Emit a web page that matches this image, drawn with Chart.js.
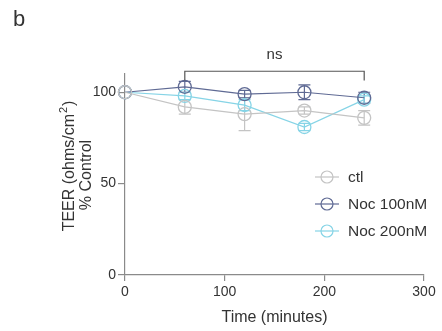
<!DOCTYPE html>
<html>
<head>
<meta charset="utf-8">
<script src="https://cdn.jsdelivr.net/npm/chart.js@4"></script>
<style>
  html, body { margin: 0; padding: 0; background: #fff; }
  #wrap { position: relative; width: 442px; height: 331px; }
</style>
</head>
<body>
<div id="wrap"><canvas id="teer" width="442" height="331"></canvas></div>
<script>
// ── DATA ──────────────────────────────────────────────────────
const TIMES      = [0, 60, 120, 180, 240];
const CTL        = [100, 92, 88, 90, 86];
const CTL_ERR    = [0, 4, 9, 2, 4];
const NOC100     = [100, 103, 99, 100, 97];
const NOC100_ERR = [0, 3, 2, 4, 3];
const NOC200     = [100, 98, 93, 81, 96];
const NOC200_ERR = [0, 2, 3, 2, 2];
const X_TICKS    = [0, 100, 200, 300];
const Y_TICKS    = [0, 50, 100];
const BRACKET    = { from: 60, to: 240, at: 111.5, drop: 106.5, label: 'ns' };

const FONT = '"Liberation Sans", Arial, sans-serif';
const AXIS = '#8a8a8a';
const TEXT = '#333';

const SERIES = [
  { label: 'ctl',       data: CTL,    err: CTL_ERR,    color: '#c4c4c4' },
  { label: 'Noc 100nM', data: NOC100, err: NOC100_ERR, color: '#5f6a94' },
  { label: 'Noc 200nM', data: NOC200, err: NOC200_ERR, color: '#86d4e6' }
];

// ── ERROR BARS + BRACKET + TITLES + LEGEND ────────────────────
const extras = {
  id: 'extras',
  beforeDatasetsDraw(chart) {
    const { ctx, scales: { x, y } } = chart;
    ctx.save();
    SERIES.forEach(s => {
      ctx.strokeStyle = s.color;
      ctx.lineWidth = 1.2;
      s.data.forEach((v, i) => {
        const e = s.err[i];
        if (!e) return;
        const px = x.getPixelForValue(TIMES[i]);
        const y1 = y.getPixelForValue(v - e), y2 = y.getPixelForValue(v + e);
        ctx.beginPath();
        ctx.moveTo(px, y1); ctx.lineTo(px, y2);
        ctx.moveTo(px - 6, y1); ctx.lineTo(px + 6, y1);
        ctx.moveTo(px - 6, y2); ctx.lineTo(px + 6, y2);
        ctx.stroke();
      });
    });
    ctx.restore();
  },
  afterDraw(chart) {
    const { ctx, scales: { x, y } } = chart;
    ctx.save();
    // significance bracket
    const bx1 = x.getPixelForValue(BRACKET.from), bx2 = x.getPixelForValue(BRACKET.to);
    const by = y.getPixelForValue(BRACKET.at), bd = y.getPixelForValue(BRACKET.drop);
    ctx.strokeStyle = '#555';
    ctx.lineWidth = 1.2;
    ctx.beginPath();
    ctx.moveTo(bx1, bd); ctx.lineTo(bx1, by); ctx.lineTo(bx2, by); ctx.lineTo(bx2, bd);
    ctx.stroke();
    ctx.fillStyle = TEXT;
    ctx.font = '15px ' + FONT;
    ctx.textAlign = 'center';
    ctx.textBaseline = 'middle';
    ctx.fillText(BRACKET.label, (bx1 + bx2) / 2, by - 16);

    // panel letter
    ctx.font = '22px ' + FONT;
    ctx.textAlign = 'left';
    ctx.fillText('b', 13, 20);

    // axis titles
    ctx.font = '16px ' + FONT;
    ctx.textAlign = 'center';
    ctx.fillText('Time (minutes)', (x.left + x.right) / 2, 318);
    ctx.save();
    ctx.translate(70, 165);
    ctx.rotate(-Math.PI / 2);
    const w = ctx.measureText('TEER (ohms/cm').width;
    const wp = ctx.measureText(')').width;
    const off = -(10 + wp) / 2;
    ctx.fillText('TEER (ohms/cm', off, 0);
    ctx.font = '11px ' + FONT;
    ctx.fillText('2', off + w / 2 + 4, -6);
    ctx.font = '16px ' + FONT;
    ctx.fillText(')', off + w / 2 + 8 + wp / 2, 0);
    ctx.restore();
    ctx.save();
    ctx.translate(87, 175);
    ctx.rotate(-Math.PI / 2);
    ctx.fillText('% Control', 0, 0);
    ctx.restore();

    // legend
    SERIES.forEach((s, i) => {
      const cy = 177 + i * 27;
      ctx.strokeStyle = s.color;
      ctx.lineWidth = 1.2;
      ctx.beginPath();
      ctx.moveTo(315, cy); ctx.lineTo(339, cy);
      ctx.stroke();
      ctx.beginPath();
      ctx.arc(327, cy, 6, 0, Math.PI * 2);
      ctx.stroke();
      ctx.fillStyle = TEXT;
      ctx.font = '15.5px ' + FONT;
      ctx.textAlign = 'left';
      ctx.fillText(s.label, 348, cy + 1);
    });
    ctx.restore();
  }
};

new Chart(document.getElementById('teer'), {
  type: 'line',
  data: {
    datasets: SERIES.map(s => ({
      label: s.label,
      data: TIMES.map((t, i) => ({ x: t, y: s.data[i] })),
      borderColor: s.color,
      backgroundColor: 'transparent',
      pointBorderColor: s.color,
      pointBackgroundColor: 'transparent',
      pointRadius: 6.5,
      pointBorderWidth: 1.3,
      borderWidth: 1.2,
      tension: 0,
      clip: false
    }))
  },
  options: {
    responsive: false,
    animation: false,
    layout: { padding: { top: 74, right: 18, left: 0, bottom: 0 } },
    plugins: { legend: { display: false }, tooltip: { enabled: false } },
    scales: {
      x: {
        type: 'linear', min: 0, max: 300,
        afterBuildTicks: s => { s.ticks = X_TICKS.map(v => ({ value: v })); },
        afterFit: s => { s.height = 56; },
        border: { color: AXIS, width: 1.2 },
        grid: { drawOnChartArea: false, drawTicks: true, tickLength: 6, color: AXIS, lineWidth: 1.2 },
        ticks: { color: TEXT, font: { family: FONT, size: 14 }, padding: 3, maxRotation: 0 }
      },
      y: {
        type: 'linear', min: 0, max: 110,
        afterBuildTicks: s => { s.ticks = Y_TICKS.map(v => ({ value: v })); },
        afterFit: s => { s.width = 125; },
        border: { color: AXIS, width: 1.2 },
        grid: { drawOnChartArea: false, drawTicks: true, tickLength: 7, color: AXIS, lineWidth: 1.2 },
        ticks: { color: TEXT, font: { family: FONT, size: 14 }, padding: 2 }
      }
    }
  },
  plugins: [extras]
});
</script>
</body>
</html>
